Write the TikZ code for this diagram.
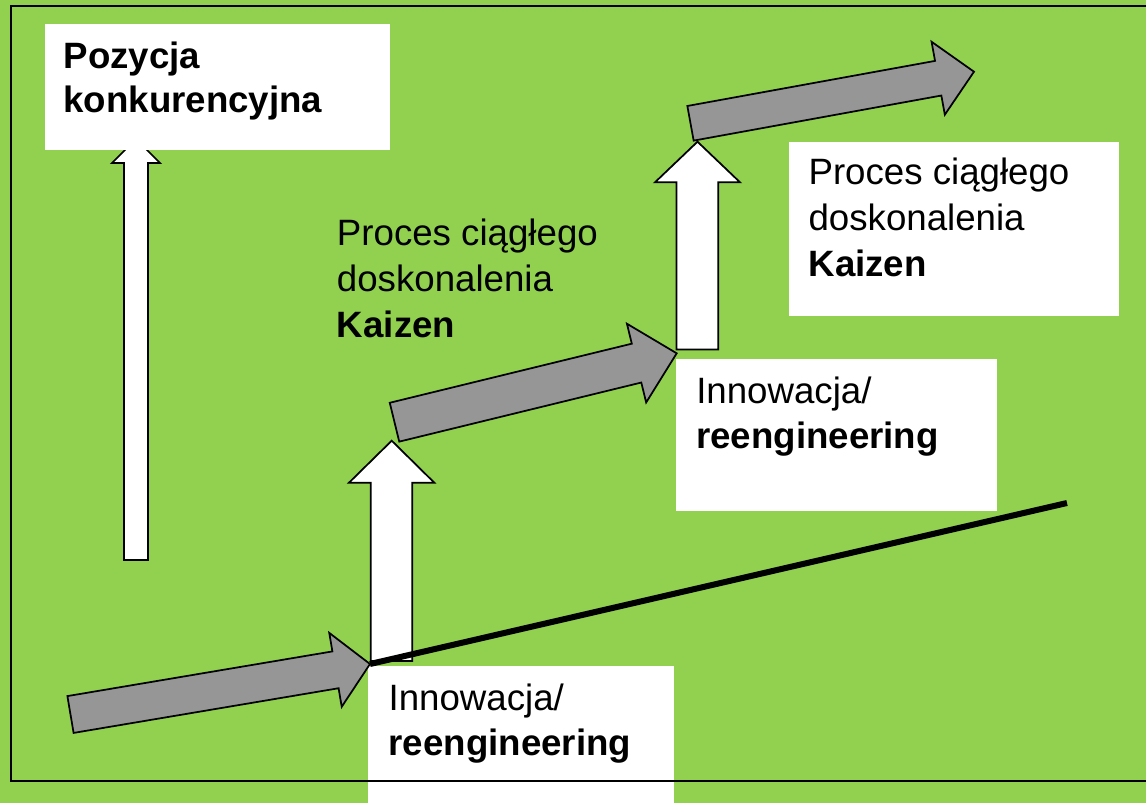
\documentclass[tikz,border=0pt]{standalone}
\usepackage{fontspec}
\setmainfont{Liberation Sans}
\usetikzlibrary{calc,fit}
\definecolor{bggreen}{HTML}{92D050}
\definecolor{arrgray}{HTML}{969696}
\tikzset{
  wbox/.style={fill=white, draw=none, inner sep=0pt},
  txt/.style={anchor=base west, inner sep=0pt, font=\fontsize{27.5}{33}\selectfont},
  grayarr/.style={draw=black, fill=arrgray, line width=1.3pt, line join=miter},
  whitearr/.style={draw=black, fill=white, line width=1.3pt, line join=miter},
}
\newcommand\grayarrow[6]{% #1 name, #2 tail, #3 tip, #4 shaft half width, #5 head half width, #6 head length
  \coordinate (#1-t) at #2;
  \coordinate (#1-p) at #3;
  \coordinate (#1-b) at ($(#1-p)!#6!(#1-t)$);
  \draw[grayarr] ($(#1-t)!#4!-90:(#1-p)$) -- ($(#1-b)!#4!-90:(#1-p)$) -- ($(#1-b)!#5!-90:(#1-p)$)
     -- (#1-p) -- ($(#1-b)!#5!90:(#1-p)$) -- ($(#1-b)!#4!90:(#1-p)$) -- ($(#1-t)!#4!90:(#1-p)$) -- cycle;
}
\begin{document}
\begin{tikzpicture}[x=0.75pt, y=-0.75pt]
\useasboundingbox (0,0) rectangle (1146,803);
\fill[bggreen] (0,0) rectangle (1146,803);

% white boxes
\node[wbox, fit={(368,666) (674,803)}] (box1) {};
\node[wbox, fit={(676,359) (997,510.7)}] (box2) {};
\node[wbox, fit={(789,142.3) (1119,315.7)}] (box3) {};

% white up arrows
\draw[whitearr] (124,560) -- (124,163) -- (112,163) -- (136,139) -- (160,163) -- (148,163) -- (148,560) -- cycle;
\node[wbox, fit={(45,24) (390,150)}] (boxP) {};
\draw[whitearr] (370.7,661) -- (370.7,482.7) -- (349,482.7) -- (391.7,440.7) -- (434.3,482.7) -- (412.3,482.7) -- (412.3,661) -- cycle;
\draw[whitearr] (676.5,349.5) -- (676.5,182.3) -- (655,182.3) -- (697.5,141.7) -- (740,182.3) -- (718.3,182.3) -- (718.3,349.5) -- cycle;

% gray arrows
\grayarrow{ga}{(70.5,714.5)}{(370,664)}{14pt}{28.1pt}{26.25pt}
\grayarrow{gb}{(394.5,422.2)}{(676.7,353.3)}{15pt}{30.4pt}{31pt}
\grayarrow{gc}{(690.5,123.3)}{(974,71.7)}{13.2pt}{27.8pt}{27.3pt}

% black trend line
\coordinate (ls) at (370,664);
\coordinate (le) at (1067,503);
\draw[line width=4.5pt, line cap=butt] (ls) -- (le);

% border
\draw[line width=1.5pt] (1146,6) -- (11,6) -- (11,781) -- (1146,781);

% texts
\node[txt] (p1) at (63.3,68.3) {\bfseries Pozycja};
\node[txt] (p2) at (63.3,112.3) {\bfseries konkurencyjna};

\node[txt] (m1) at (336.7,245) {Proces ciągłego};
\node[txt] (m2) at (336.7,291.3) {doskonalenia};
\node[txt] (m3) at (336.7,337.3) {\bfseries Kaizen};

\node[txt] (r1) at (808.3,184.3) {Proces ciągłego};
\node[txt] (r2) at (808.3,230.6) {doskonalenia};
\node[txt] (r3) at (808.3,276.7) {\bfseries Kaizen};

\node[txt] (i1) at (696,403.3) {Innowacja/};
\node[txt] (i2) at (696,448.3) {\bfseries reengineering};

\node[txt] (j1) at (388.3,710) {Innowacja/};
\node[txt] (j2) at (388.3,755) {\bfseries reengineering};
\end{tikzpicture}
\end{document}
